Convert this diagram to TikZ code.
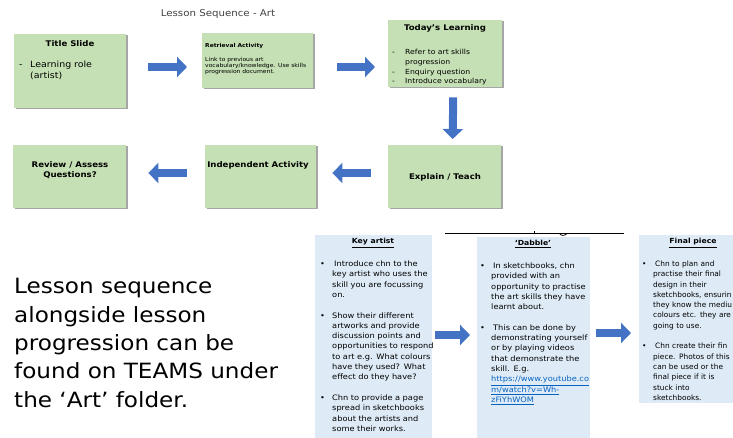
\documentclass[tikz,border=0pt]{standalone}
\usepackage{fontspec}
\setmainfont[FakeStretch=1.1]{DejaVu Sans}
\newfontfamily\fpfont{DejaVu Sans}
\usetikzlibrary{arrows.meta,calc,shadows}
\definecolor{boxgreen}{HTML}{C5E0B4}
\definecolor{boxblue}{HTML}{DEEBF7}
\definecolor{arrblue}{HTML}{4472C4}
\definecolor{linkblue}{HTML}{0563C1}
\definecolor{titlegray}{HTML}{404040}
\newcommand{\nl}{\hfil\break}
\newcommand{\bitem}[2][12pt]{\par\noindent\hangindent=#1\hangafter=1\makebox[#1][l]{\textbullet}#2\par}
\newcommand{\ditem}[2][12pt]{\par\noindent\hangindent=#1\hangafter=1\makebox[#1][l]{-}#2\par}
\newcommand{\gapline}{\vskip 10.3pt}
\begin{document}
\begin{tikzpicture}[x=1pt,y=-1pt,
  gbox/.style={fill=boxgreen, draw=none, anchor=north west, inner sep=0,
    drop shadow={shadow xshift=1.3pt, shadow yshift=-1.3pt, opacity=0.35, fill=black}},
  bbox/.style={fill=boxblue, draw=none, anchor=north west, inner sep=0},
  gtitle/.style={font=\fontsize{7.8}{9.3}\selectfont\bfseries, inner sep=0, align=center},
  btitle/.style={font=\fontsize{7}{9}\selectfont\bfseries, inner sep=0},
  body/.style={anchor=north west, inner sep=0, text width=160pt, font=\fontsize{7.5}{10.3}\selectfont},
  barrow/.style={draw=arrblue, line width=8pt, -{Triangle[length=10pt,width=20pt]}}
]
\clip (0,0) rectangle (733,438);

% title
\node[font=\fontsize{9.3}{11}\selectfont, text=titlegray, inner sep=0] (hd) at (218,14) {Lesson Sequence - Art};

% green boxes
\node[gbox, minimum width=112pt, minimum height=74pt] (ts) at (14,34) {};
\node[gbox, minimum width=111pt, minimum height=55pt] (ra) at (202,33) {};
\node[gbox, minimum width=114pt, minimum height=67pt] (tl) at (388,20) {};
\node[gbox, minimum width=113pt, minimum height=63pt] (et) at (388,145) {};
\node[gbox, minimum width=111pt, minimum height=63pt] (ia) at (205,145) {};
\node[gbox, minimum width=113pt, minimum height=63pt] (rv) at (13,145) {};

% green box texts
\node[gtitle] (tst) at (70,44) {Title Slide};
\node[anchor=north west, inner sep=0, text width=110pt, font=\fontsize{8.6}{10.8}\selectfont] (tsb) at (19,57)
  {\ditem[11pt]{Learning role\nl(artist)}};
\node[anchor=north west, inner sep=0, font=\fontsize{5.4}{6}\selectfont\bfseries] (rat) at (205,43.5) {Retrieval Activity};
\node[anchor=north west, inner sep=0, text width=110pt, font=\fontsize{5.5}{6.3}\selectfont] (rab) at (205,57)
  {\raggedright Link to previous art\nl vocabulary/knowledge. Use skills\nl progression document.};
\node[gtitle] (tlt) at (445,28) {Today's Learning};
\node[anchor=north west, inner sep=0, text width=110pt, font=\fontsize{7}{9.7}\selectfont] (tlb) at (392,45)
  {\ditem[13pt]{Refer to art skills\nl progression}\ditem[13pt]{Enquiry question}\ditem[13pt]{Introduce vocabulary}};
\node[gtitle] (ett) at (445,177) {Explain / Teach};
\node[gtitle] (iat) at (258,165) {Independent Activity};
\node[gtitle] (rvt) at (70,170) {Review / Assess\\Questions?};

% blue boxes
\node[bbox, minimum width=117pt, minimum height=203pt] (ka) at (315,235) {};
\node[bbox, minimum width=113pt, minimum height=202pt] (db) at (477,237) {};
\node[bbox, minimum width=100pt, minimum height=168pt] (fp) at (639,235) {};

\node[btitle] (kat) at (373,243) {\underline{Key artist}};
\node[body] (kab) at (320,256)
  {\bitem{\hspace{2pt}Introduce chn to the\nl key artist who uses the\nl skill you are focussing\nl on.}\gapline
   \bitem{Show their different\nl artworks and provide\nl discussion points and\nl opportunities to respond\nl to art e.g. What colours\nl have they used? What\nl effect do they have?}\gapline
   \bitem{Chn to provide a page\nl spread in sketchbooks\nl about the artists and\nl some their works.}};

\node[btitle] (dbt) at (533,244) {\underline{`Dabble'}};
\node[body] (dbb) at (480,258)
  {\bitem[11pt]{\hspace{2pt}In sketchbooks, chn\nl provided with an\nl opportunity to practise\nl the art skills they have\nl learnt about.}\gapline
   \bitem[11pt]{\hspace{2pt}This can be done by\nl demonstrating yourself\nl or by playing videos\nl that demonstrate the\nl skill. E.g.\nl \textcolor{linkblue}{\underline{https://www.youtube.co}}\nl \textcolor{linkblue}{\underline{m/watch?v=Wh-}}\nl \textcolor{linkblue}{\underline{zFiYhWOM}}}};

\node[btitle] (fpt) at (693,243) {\underline{Final piece}};
\node[body, font=\fontsize{7.4}{10.3}\fpfont] (fpb) at (642,256)
  {\bitem[11pt]{\hspace{2pt}Chn to plan and\nl practise their final\nl design in their\nl sketchbooks, ensurin\nl they know the mediu\nl colours etc. they are\nl going to use.}\gapline
   \bitem[11pt]{\hspace{2pt}Chn create their fin\nl piece. Photos of this\nl can be used or the\nl final piece if it is\nl stuck into\nl sketchbooks.}};

% left text
\node[anchor=west, inner sep=0, align=left, font=\fontsize{21}{28.3}\selectfont] (note) at (14,343)
  {Lesson sequence\\alongside lesson\\progression can be\\found on TEAMS under\\the `Art' folder.};

% line above Dabble
\draw[line width=0.9pt] (445,233) -- (624,233);
\draw[line width=0.8pt] (534,231.3) -- (534,234.5);
\draw[line width=0.8pt] (559.5,233.5) .. controls (561,236) and (565,236) .. (567,233.5);

% arrows
\draw[barrow] ($(ts.north east)+(22,33)$) -- ($(ra.north west)+(-15,34)$);
\draw[barrow] ($(ra.north east)+(24,34)$) -- ($(tl.north west)+(-13,47)$);
\draw[barrow] ($(tl.south)+(8,10)$) -- ($(et.north)+(8,-6)$);
\draw[barrow] ($(et.north west)+(-17,28)$) -- ($(ia.north east)+(16,28)$);
\draw[barrow] ($(ia.north west)+(-18,28)$) -- ($(rv.north east)+(22,28)$);
\draw[barrow] ($(ka.north east)+(3,100)$) -- ($(db.north west)+(-7,98)$);
\draw[barrow] ($(db.north east)+(6,96)$) -- ($(fp.north west)+(-8,98)$);
\end{tikzpicture}
\end{document}
